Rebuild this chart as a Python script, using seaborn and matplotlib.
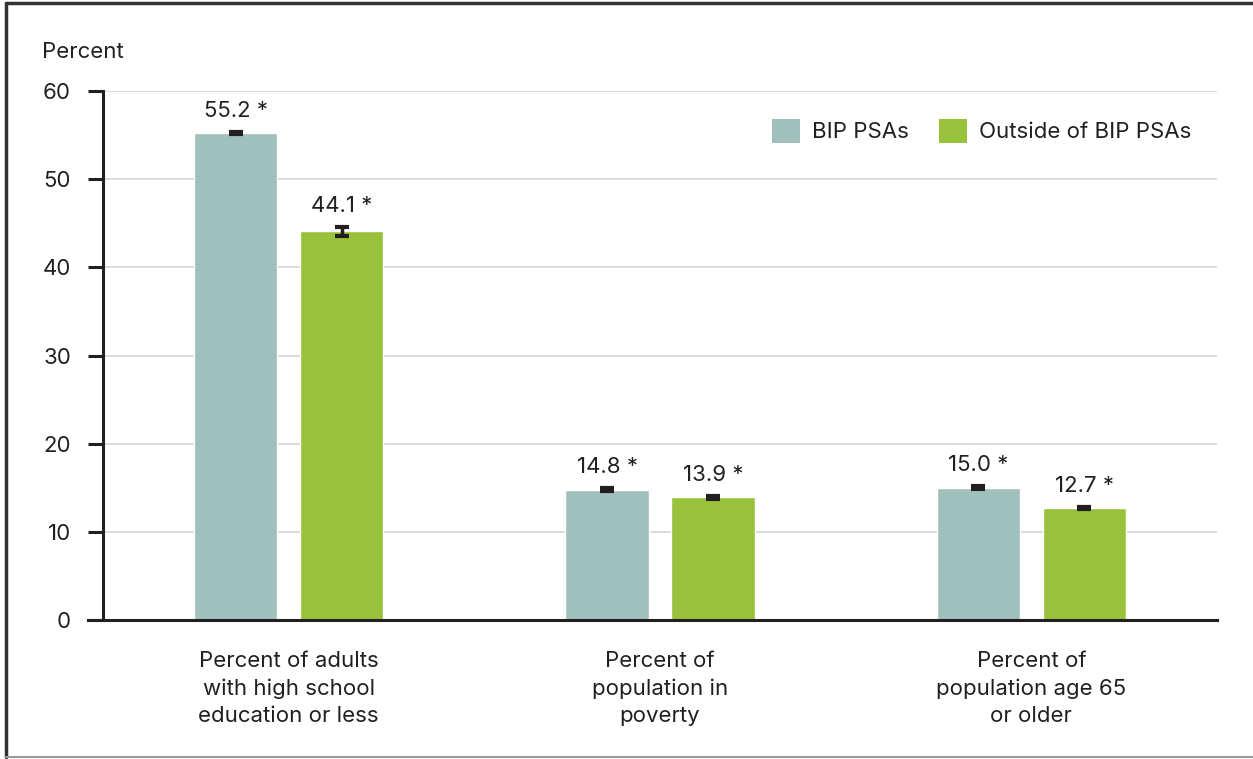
import matplotlib
matplotlib.use("Agg")
import matplotlib.pyplot as plt
from matplotlib.lines import Line2D
from matplotlib.patches import Patch
import numpy as np
import pandas as pd
import seaborn as sns

# Data
categories = [
    "Percent of adults\nwith high school\neducation or less",
    "Percent of\npopulation in\npoverty",
    "Percent of\npopulation age 65\nor older",
]
groups = ["BIP PSAs", "Outside of BIP PSAs"]
bip_values = [55.2, 14.8, 15.0]
outside_values = [44.1, 13.9, 12.7]
bip_err = [0.1, 0.15, 0.15]
outside_err = [0.5, 0.15, 0.15]
value_labels_bip = ["55.2 *", "14.8 *", "15.0 *"]
value_labels_outside = ["44.1 *", "13.9 *", "12.7 *"]
y_ticks = [0, 10, 20, 30, 40, 50, 60]

colors = {"BIP PSAs": "#a0c1bb", "Outside of BIP PSAs": "#99c23c"}
text_color = "#231f20"
FS = 16

df = pd.DataFrame({
    "category": categories * 2,
    "group": [groups[0]] * 3 + [groups[1]] * 3,
    "value": bip_values + outside_values,
    "err": bip_err + outside_err,
    "label": value_labels_bip + value_labels_outside,
})

sns.set_theme(style="white")
plt.rcParams["font.family"] = ["Inter", "DejaVu Sans"]
plt.rcParams["text.color"] = text_color

fig = plt.figure(figsize=(12.53, 7.59), dpi=100)
ax = fig.add_axes([0.0822, 0.1831, 0.8891, 0.6970])

sns.barplot(
    data=df, x="category", y="value", hue="group", order=categories,
    hue_order=groups, palette=colors, width=0.571, gap=0.216,
    errorbar=None, legend=False, ax=ax, saturation=1, zorder=2,
)

# Error bars and value labels at bar centres
for container, grp in zip(ax.containers, groups):
    sub = df[df["group"] == grp].set_index("category").loc[categories]
    for bar, (_, row) in zip(container.patches, sub.iterrows()):
        xc = bar.get_x() + bar.get_width() / 2
        ax.errorbar(xc, row["value"], yerr=row["err"], fmt="none",
                    ecolor="#231f20", elinewidth=2.5, capsize=5,
                    capthick=3, zorder=3)
        ax.annotate(row["label"], (xc, row["value"] + row["err"]),
                    xytext=(0, 8), textcoords="offset points",
                    ha="center", va="bottom", fontsize=FS, color=text_color)

ax.set_ylim(0, 60)
ax.set_xlim(-0.5, 2.5)
ax.set_yticks(y_ticks)
ax.set_yticklabels([str(t) for t in y_ticks])
ax.grid(axis="y", color="#d4d4d4", linewidth=1.2, zorder=0)
ax.set_axisbelow(True)
for s in ["top", "right"]:
    ax.spines[s].set_visible(False)
for s in ["left", "bottom"]:
    ax.spines[s].set_color("#231f20")
    ax.spines[s].set_linewidth(2.2)
ax.spines["bottom"].set_bounds(-0.5 - 15 / 371.3, 2.5)
ax.tick_params(axis="y", length=11, width=2.2, color="#231f20",
               labelsize=FS, labelcolor=text_color, pad=12, left=True)
ax.tick_params(axis="x", length=0, labelsize=FS, labelcolor=text_color, pad=22)
ax.set_xlabel("")
ax.set_ylabel("")
for lbl in ax.get_xticklabels():
    lbl.set_linespacing(1.45)

fig.text(42 / 1253, 1 - 52 / 759, "Percent", fontsize=FS, color=text_color,
         ha="left", va="center")

handles = [Patch(facecolor=colors[g], edgecolor="none") for g in groups]
ax.legend(handles, groups, loc="upper right", bbox_to_anchor=(0.995, 0.985),
          frameon=False, fontsize=FS, ncol=2, handlelength=1.26,
          handleheight=1.26, handletextpad=0.54, columnspacing=1.35)

# Outer frame
fig.add_artist(Line2D([6 / 1253, 6 / 1253], [0.003, 1 - 3 / 759],
                      transform=fig.transFigure, color="#333333", linewidth=2.5))
fig.add_artist(Line2D([6 / 1253, 1.0], [1 - 3 / 759, 1 - 3 / 759],
                      transform=fig.transFigure, color="#333333", linewidth=2.5))
fig.add_artist(Line2D([6 / 1253, 1.0], [2 / 759, 2 / 759],
                      transform=fig.transFigure, color="#9a9a9a", linewidth=1.5))

fig.savefig("out.png", dpi=100)
